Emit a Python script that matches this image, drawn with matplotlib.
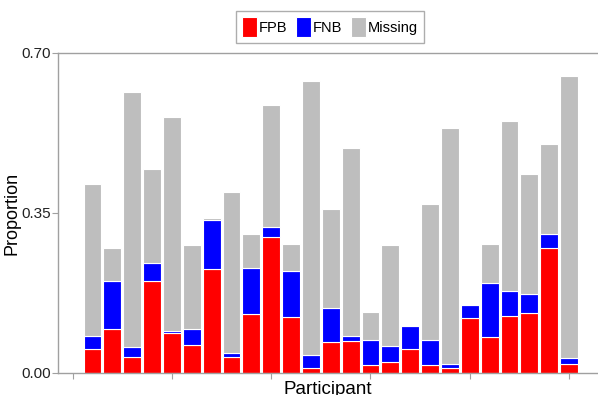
import matplotlib
matplotlib.use("Agg")
import matplotlib.pyplot as plt
import numpy as np

plt.rcParams['font.family'] = ['Liberation Sans', 'DejaVu Sans']

participants = list(range(1, 26))
fpb = [0.053, 0.096, 0.036, 0.202, 0.087, 0.061, 0.228, 0.036, 0.128, 0.298,
       0.122, 0.011, 0.068, 0.070, 0.018, 0.023, 0.052, 0.018, 0.011, 0.120,
       0.079, 0.124, 0.132, 0.274, 0.020]
fnb = [0.029, 0.105, 0.020, 0.039, 0.005, 0.035, 0.107, 0.007, 0.102, 0.022,
       0.101, 0.028, 0.074, 0.012, 0.054, 0.035, 0.051, 0.054, 0.008, 0.029,
       0.117, 0.056, 0.040, 0.031, 0.012]
missing = [0.331, 0.072, 0.559, 0.205, 0.468, 0.184, 0.005, 0.353, 0.073, 0.266,
           0.059, 0.600, 0.216, 0.410, 0.061, 0.222, 0.000, 0.298, 0.516, 0.000,
           0.086, 0.371, 0.264, 0.195, 0.618]
yticks = [0.00, 0.35, 0.70]
ytick_labels = ["0.00", "0.35", "0.70"]
series_names = ["FPB", "FNB", "Missing"]
colors = ["#FF0000", "#0000FF", "#BEBEBE"]

fig = plt.figure(figsize=(5.98, 3.95), dpi=100)
ax = fig.add_axes([58/598, 1-373/395, (597-58)/598, (373-53)/395])

x = np.array(participants)
bottom = np.zeros(len(x))
handles = []
for vals, name, c in zip([fpb, fnb, missing], series_names, colors):
    h = ax.bar(x, vals, bottom=bottom, width=0.9, color=c, edgecolor='white',
               linewidth=0.8, label=name)
    bottom = bottom + np.array(vals)
    handles.append(h)

ax.set_xlim(-0.74, 26.41)
ax.set_ylim(0, 0.70)
ax.set_yticks(yticks)
ax.set_yticklabels(ytick_labels)
ax.set_xticks([0, 5, 10, 15, 20, 25])
ax.set_xticklabels([])
spine_c = '#A0A0A0'
for s in ['left', 'bottom', 'top']:
    ax.spines[s].set_color(spine_c)
    ax.spines[s].set_linewidth(1.0)
ax.spines['right'].set_visible(False)
ax.tick_params(axis='both', colors=spine_c, length=4, width=0.8, labelsize=11,
               labelcolor='#222222', pad=1)
ax.set_ylabel("Proportion", fontsize=13, labelpad=1)
ax.set_xlabel("Participant", fontsize=13.5, labelpad=1)

leg = fig.legend(handles=handles, labels=series_names, loc='center',
                 bbox_to_anchor=(330/598, 1-27/395), ncol=3, fontsize=10.5,
                 frameon=True, fancybox=False, edgecolor='#999999',
                 handlelength=1.0, handleheight=1.75, handletextpad=0.15,
                 columnspacing=0.6, borderpad=0.4, borderaxespad=0)
leg.get_frame().set_linewidth(1.0)

fig.savefig("out.png", dpi=100)
